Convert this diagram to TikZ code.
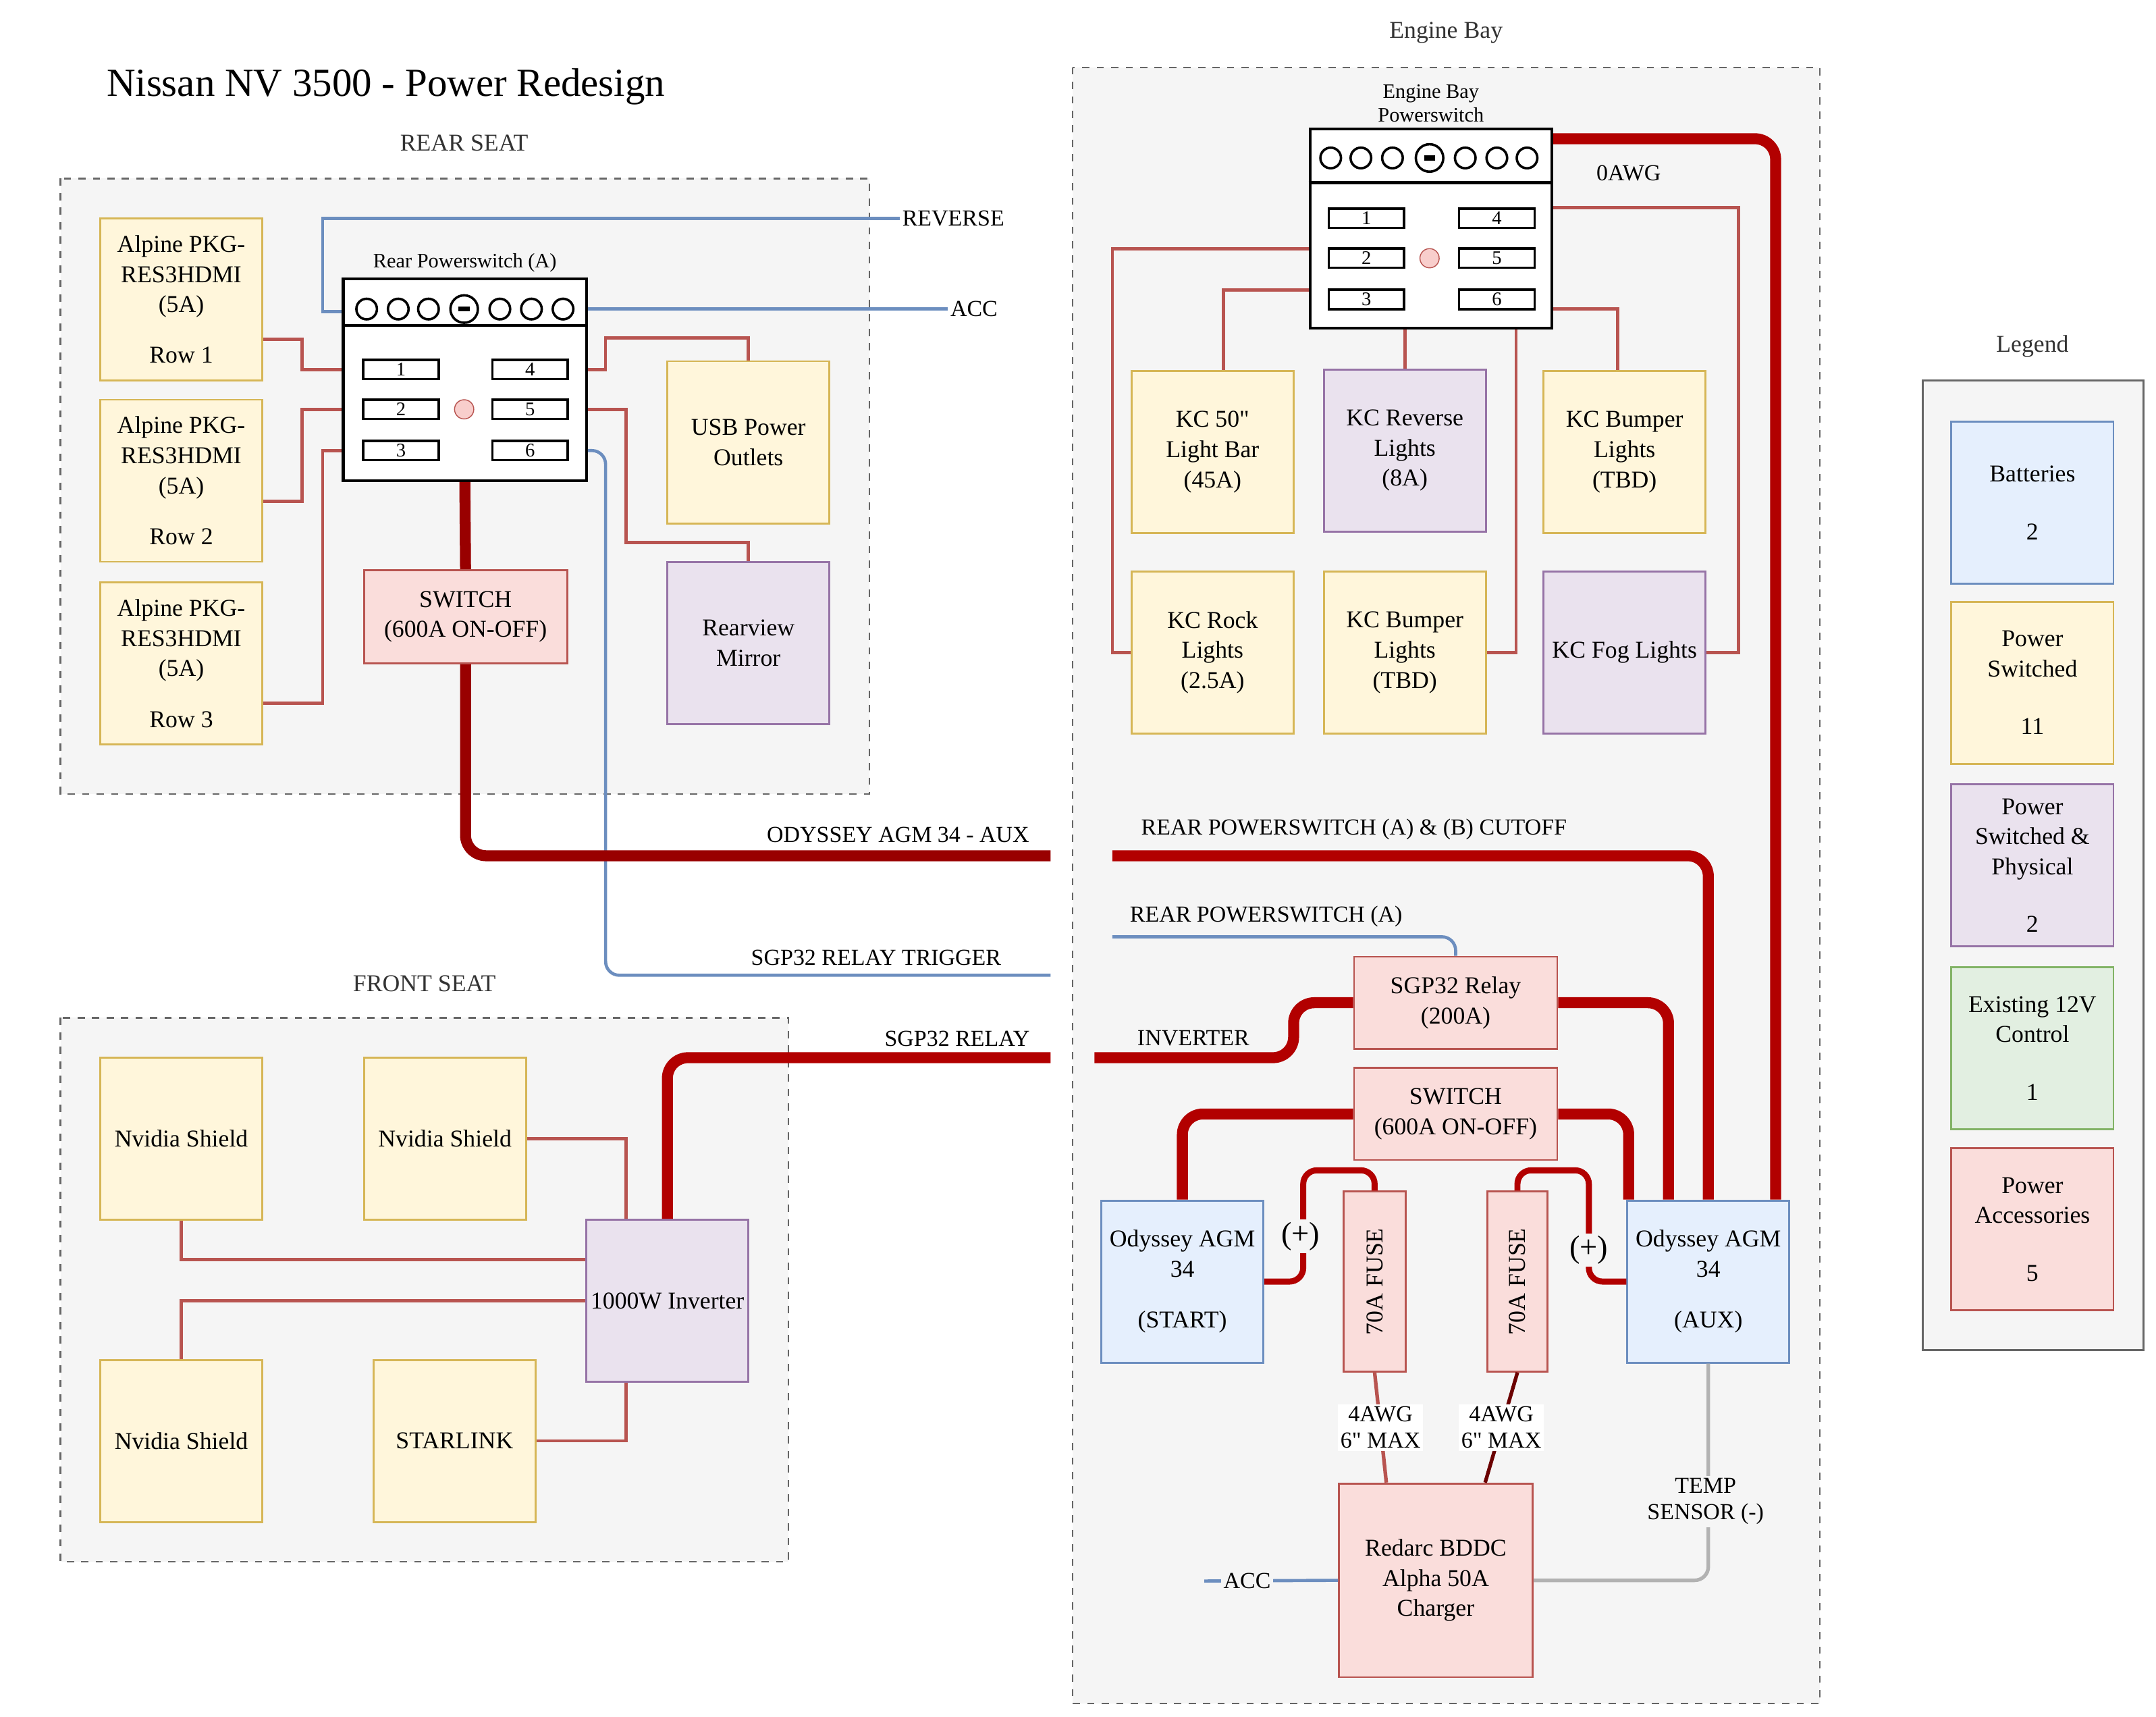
\documentclass[tikz,border=0pt]{standalone}
\usepackage{fontspec}
\setmainfont{Liberation Serif}[Ligatures=TeXOff]
\usepackage{xcolor}
\usetikzlibrary{positioning, calc}
\definecolor{yelS}{HTML}{D6B656}\definecolor{yelF}{HTML}{FFF2CC}
\definecolor{bluS}{HTML}{6C8EBF}\definecolor{bluF}{HTML}{DAE8FC}
\definecolor{purS}{HTML}{9673A6}\definecolor{purF}{HTML}{E1D5E7}
\definecolor{redS}{HTML}{B85450}\definecolor{redF}{HTML}{F8CECC}
\definecolor{grnS}{HTML}{82B366}\definecolor{grnF}{HTML}{D5E8D4}
\definecolor{bigR}{HTML}{B20000}\definecolor{darkR}{HTML}{990000}
\definecolor{bgG}{HTML}{F5F5F5}
\begin{document}
\begin{tikzpicture}[x=0.02cm, y=-0.02cm,
    box/.style={draw, line width=0.8pt, minimum width=2.36cm, minimum height=2.36cm, align=center, inner sep=1pt, font=\fontsize{10}{12.5}\selectfont},
    yel/.style={box, draw=yelS, fill=yelF!70},
    blu/.style={box, draw=bluS, fill=bluF!70},
    pur/.style={box, draw=purS, fill=purF!70},
    red/.style={box, draw=redS, fill=redF!70},
    grn/.style={box, draw=grnS, fill=grnF!70},
    area/.style={draw=black!60, dashed, fill=bgG, line width=0.6pt},
    title/.style={font=\fontsize{10}{12}\selectfont, text=black!80},
    lbl/.style={font=\fontsize{8.5}{10}\selectfont, inner sep=1pt},
    thin/.style={draw=redS, line width=1.3pt},
    sig/.style={draw=bluS, line width=1.3pt, rounded corners=0.2cm},
    wire/.style={draw=bigR, line width=0.16cm, rounded corners=0.3cm},
    body/.style={draw, line width=1.2pt, fill=white},
    port/.style={draw, line width=1pt, minimum width=1.1cm, minimum height=0.28cm, inner sep=0pt, font=\fontsize{8}{8}\selectfont}
]
\useasboundingbox (0,0) rectangle (1570,1250);

% title and areas
\node[font=\fontsize{16.5}{20}\selectfont] (ttl) at (281,63) {Nissan NV 3500 - Power Redesign};
\draw[area] (44,130) rectangle (633,578);
\node[title] at (338,104) {REAR SEAT};
\draw[area] (44,741) rectangle (574,1137);
\node[title] at (309,716) {FRONT SEAT};
\draw[area] (781,49) rectangle (1325,1240);
\node[title] at (1053,24) {Engine Bay};
\draw[draw=black!60, fill=bgG, line width=0.8pt] (1400,277) rectangle (1561,983);
\node[title] at (1480,252) {Legend};

% rear powerswitch
\node[body, minimum width=3.54cm, minimum height=2.94cm] (ps) at (338.5,276.5) {};
\node[lbl, above=1pt of ps] {Rear Powerswitch (A)};
\draw[line width=1.2pt] (ps.west |- 0,237) -- (ps.east |- 0,237);
\foreach \x in {267,290,312,364,387,410} \draw[line width=1pt] (\x,225) circle (7.5);
\draw[line width=1pt] (338,225) circle (10);
\draw[line width=2pt] (334,225) -- (342,225);
\foreach \n/\x/\y in {1/292/269,2/292/298,3/292/328,4/386/269,5/386/298,6/386/328}
    \node[port] (r\n) at (\x,\y) {\n};
\draw[draw=redS, fill=redF] (338,298) circle (7);

% rear seat loads
\node[yel] (alp1) at (132,218) {Alpine PKG-\\RES3HDMI\\(5A)\\[0.3cm]Row 1};
\node[yel] (alp2) at (132,350) {Alpine PKG-\\RES3HDMI\\(5A)\\[0.3cm]Row 2};
\node[yel] (alp3) at (132,483) {Alpine PKG-\\RES3HDMI\\(5A)\\[0.3cm]Row 3};
\node[yel] (usb) at (545,322) {USB Power\\Outlets};
\node[pur] (mirror) at (545,468) {Rearview\\Mirror};
\node[red, minimum width=2.96cm, minimum height=1.36cm] (sw1) at (339,449) {SWITCH\\(600A ON-OFF)};

\draw[thin] ([yshift=-0.58cm]alp1.east) -| (220,269) -- (ps.west |- r1);
\draw[thin] ([yshift=-0.3cm]alp2.east) -| (220,298) -- (ps.west |- r2);
\draw[thin] ([yshift=-0.58cm]alp3.east) -| (235,328) -- (ps.west |- r3);
\draw[thin] (ps.east |- r4) -| (441,246) -| (usb.north);
\draw[thin] (ps.east |- r5) -| (456,395) -| (mirror.north);

% signal lines
\coordinate (rev) at (655,159);
\coordinate (acc1) at (690,225);
\coordinate (trig) at (765,710);
\draw[draw=bluS, line width=1.3pt] (ps.west |- 0,227) -| (235,159) -- (rev);
\node[lbl, anchor=west, font=\fontsize{9.5}{10}\selectfont] at (rev) {REVERSE};
\draw[draw=bluS, line width=1.3pt] (ps.east |- 0,225) -- (acc1);
\node[lbl, anchor=west, font=\fontsize{9.5}{10}\selectfont] at (acc1) {ACC};
\draw[sig] (ps.east |- r6) -| (441,710) -- (trig);
\node[lbl, font=\fontsize{9.5}{10}\selectfont] at (638,697) {SGP32 RELAY TRIGGER};

% main feed rear
\coordinate (aux1) at (765,623);
\draw[wire, draw=darkR] (ps.south) -- (sw1.north);
\draw[wire, draw=darkR] (sw1.south) |- (aux1);
\node[lbl, font=\fontsize{9.5}{10}\selectfont] at (654,608) {ODYSSEY AGM 34 - AUX};

% front seat
\node[yel] (nv1) at (132,829) {Nvidia Shield};
\node[yel] (nv2) at (324,829) {Nvidia Shield};
\node[yel] (nv3) at (132,1049) {Nvidia Shield};
\node[yel] (star) at (331,1049) {STARLINK};
\node[pur] (inv) at (486,947) {1000W Inverter};
\draw[thin] (nv2.east) -| ([xshift=-0.6cm]inv.north);
\draw[thin] (nv1.south) |- ([yshift=0.6cm]inv.west);
\draw[thin] (nv3.north) |- ([yshift=0cm]inv.west);
\draw[thin] (star.east) -| ([xshift=-0.6cm]inv.south);
\coordinate (relay1) at (765,770);
\draw[wire] (inv.north) |- (relay1);
\node[lbl, font=\fontsize{9.5}{10}\selectfont] at (697,756) {SGP32 RELAY};

% engine bay powerswitch
\node[body, minimum width=3.52cm, minimum height=2.9cm] (eps) at (1042,166.5) {};
\node[lbl, above=1pt of eps, align=center] {Engine Bay\\Powerswitch};
\draw[line width=1.2pt] (eps.west |- 0,133) -- (eps.east |- 0,133);
\foreach \x in {969,991,1014,1067,1090,1112} \draw[line width=1pt] (\x,115) circle (7.5);
\draw[line width=1pt] (1041,115) circle (10);
\draw[line width=2pt] (1037,115) -- (1045,115);
\foreach \n/\x/\y in {1/995/159,2/995/188,3/995/218,4/1090/159,5/1090/188,6/1090/218}
    \node[port] (e\n) at (\x,\y) {\n};
\draw[draw=redS, fill=redF] (1041,188) circle (7);

% engine bay loads
\node[yel] (bar) at (883,329) {KC 50"\\Light Bar\\(45A)};
\node[pur] (revl) at (1023,328) {KC Reverse\\Lights\\(8A)};
\node[yel] (bump1) at (1183,329) {KC Bumper\\Lights\\(TBD)};
\node[yel] (rock) at (883,475) {KC Rock\\Lights\\(2.5A)};
\node[yel] (bump2) at (1023,475) {KC Bumper\\Lights\\(TBD)};
\node[pur] (fog) at (1183,475) {KC Fog Lights};
\draw[thin] (eps.west |- 0,181) -| (810,475) -- (rock.west);
\draw[thin] (eps.west |- 0,211) -| (bar.north -| 891,0);
\draw[thin] (eps.south -| revl) -- (revl.north);
\draw[thin] (eps.east |- 0,151) -| (1266,475) -- (fog.east);
\draw[thin] (eps.east |- 0,225) -| (bump1.north -| 1178,0);
\draw[thin] (eps.south -| 1104,0) |- (bump2.east);

% batteries and power path
\node[blu] (start) at (861,933) {Odyssey AGM\\34\\[0.3cm](START)};
\node[blu] (aux) at (1244,933) {Odyssey AGM\\34\\[0.3cm](AUX)};
\node[red, minimum width=2.96cm, minimum height=1.34cm] (relay) at (1060,730) {SGP32 Relay\\(200A)};
\node[red, minimum width=2.96cm, minimum height=1.34cm] (sw2) at (1060,811) {SWITCH\\(600A ON-OFF)};
\node[red, minimum width=0.9cm, minimum height=2.62cm] (fuse1) at (1001,933) {};
\node[rotate=90, font=\fontsize{10}{12}\selectfont] at (fuse1) {70A FUSE};
\node[red, minimum width=0.88cm, minimum height=2.62cm] (fuse2) at (1105,933) {};
\node[rotate=90, font=\fontsize{10}{12}\selectfont] at (fuse2) {70A FUSE};
\node[red, minimum width=2.82cm, minimum height=2.82cm] (redarc) at (1045.5,1150.5) {Redarc BDDC\\Alpha 50A\\Charger};

\draw[wire] (eps.east |- 0,101) -| ([xshift=0.98cm]aux.north);
\coordinate (cut) at (810,623);
\draw[wire] (cut) -| (aux.north);
\node[lbl, font=\fontsize{9.5}{10}\selectfont] at (986,604) {REAR POWERSWITCH (A) \& (B) CUTOFF};
\node[lbl, font=\fontsize{9.5}{10}\selectfont] at (1186,126) {0AWG};
\coordinate (rps) at (810,682);
\draw[sig] (rps) -| (relay.north);
\node[lbl, font=\fontsize{9.5}{10}\selectfont] at (922,667) {REAR POWERSWITCH (A)};
\coordinate (invf) at (797,770);
\draw[wire] (relay.west) -| (942,770) -- (invf);
\node[lbl, font=\fontsize{9.5}{10}\selectfont] at (869,756) {INVERTER};
\draw[wire] (relay.east) -| ([xshift=-0.58cm]aux.north);
\draw[wire] (sw2.west) -| (start.north);
\draw[wire] (sw2.east) -| ([xshift=-1.16cm]aux.north);

\draw[draw=bigR, line width=2.5pt, rounded corners=0.2cm] (start.east) -| (949,852) -| (fuse1.north);
\node[font=\fontsize{13}{14}\selectfont, fill=bgG, inner sep=1pt] at (947,900) {(+)};
\draw[draw=bigR, line width=2.5pt, rounded corners=0.2cm] (aux.west) -| (1157,852) -| (fuse2.north);
\node[font=\fontsize{13}{14}\selectfont, fill=bgG, inner sep=1pt] at (1157,910) {(+)};

\draw[draw=redS, line width=1.5pt] (fuse1.south) -- ([xshift=-0.72cm]redarc.north)
    node[pos=0.5, fill=white, align=center, inner sep=1pt, font=\fontsize{9.5}{11}\selectfont] {4AWG\\6" MAX};
\draw[draw=darkR!70!black, line width=1.5pt] (fuse2.south) -- ([xshift=0.72cm]redarc.north)
    node[pos=0.5, fill=white, align=center, inner sep=1pt, font=\fontsize{9.5}{11}\selectfont] {4AWG\\6" MAX};

\coordinate (acc2) at (877,1151);
\draw[draw=bluS, line width=1.3pt] (acc2) -- (redarc.west)
    node[pos=0.32, fill=bgG, inner sep=1pt, font=\fontsize{9.5}{10}\selectfont] {ACC};
\draw[draw=black!30, line width=1.5pt, rounded corners=0.2cm] (aux.south) |- (redarc.east);
\node[fill=bgG, align=center, inner sep=1pt, font=\fontsize{9.5}{11}\selectfont] at (1242,1093) {TEMP\\SENSOR (-)};

% legend
\node[blu] (lg1) at (1480,366) {Batteries\\[0.4cm]2};
\node[yel] (lg2) at (1480,497) {Power\\Switched\\[0.4cm]11};
\node[pur] (lg3) at (1480,630) {Power\\Switched \&\\Physical\\[0.4cm]2};
\node[grn] (lg4) at (1480,763) {Existing 12V\\Control\\[0.4cm]1};
\node[red] (lg5) at (1480,895) {Power\\Accessories\\[0.4cm]5};
\end{tikzpicture}
\end{document}
